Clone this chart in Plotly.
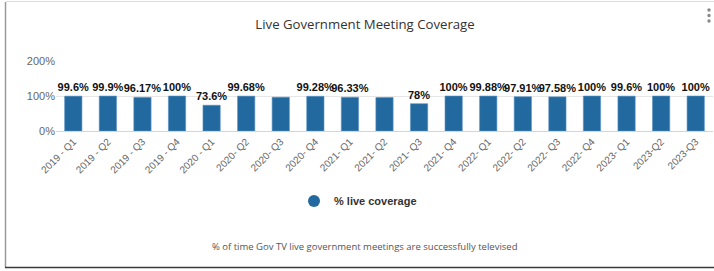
import plotly.graph_objects as go

categories = ["2019 - Q1", "2019 - Q2", "2019 - Q3", "2019 - Q4", "2020 - Q1",
              "2020- Q2", "2020- Q3", "2020- Q4", "2021- Q1", "2021- Q2",
              "2021- Q3", "2021- Q4", "2022- Q1", "2022- Q2", "2022- Q3",
              "2022- Q4", "2023- Q1", "2023-Q2", "2023-Q3"]
coverage = [99.6, 99.9, 96.17, 100, 73.6, 99.68, 96.5, 99.28, 96.33, 95.8,
            78, 100, 99.88, 97.91, 97.58, 100, 99.6, 100, 100]
labels = ["99.6%", "99.9%", "96.17%", "100%", "73.6%", "99.68%", "", "99.28%", "96.33%", "",
          "78%", "100%", "99.88%", "97.91%", "97.58%", "100%", "99.6%", "100%", "100%"]
y_ticks = [0, 100, 200]
y_tick_labels = ["0%", "100%", "200%"]

W, H = 714, 271
L, R, T, B = 56, 1, 61, 140
PW, PH = W - L - R, H - T - B

def px(x):
    return (x - L) / PW

def py(y):
    return (H - B - y) / PH

BLUE = "#22699f"

fig = go.Figure()
fig.add_trace(go.Bar(
    x=categories, y=coverage, text=labels, textposition="outside",
    constraintext="none",
    textfont=dict(family="Liberation Sans, Arial", size=11, color="#111111", weight="bold"),
    marker=dict(color=BLUE, line=dict(color="#5b93c4", width=0.6)),
    width=0.5, cliponaxis=False, showlegend=False, name="% live coverage",
    hoverinfo="x+y",
))
fig.add_trace(go.Scatter(
    x=[None], y=[None], mode="markers", name="% live coverage",
    marker=dict(symbol="circle", size=12, color=BLUE), showlegend=True,
))

shapes = [
    dict(type="line", xref="paper", yref="paper", x0=px(5.5), x1=px(5.5), y0=py(2), y1=py(267.5),
         line=dict(color="#9a9a9a", width=1.5)),
    dict(type="line", xref="paper", yref="paper", x0=px(5), x1=px(714), y0=py(267.5), y1=py(267.5),
         line=dict(color="#3a3a3a", width=1.5)),
    dict(type="line", xref="paper", yref="paper", x0=px(6), x1=px(714), y0=py(1.5), y1=py(1.5),
         line=dict(color="#dddddd", width=1)),
]
for yy in (10, 15.5, 21):
    shapes.append(dict(type="circle", xref="paper", yref="paper",
                       x0=px(707.3), x1=px(710.7), y0=py(yy - 1.7), y1=py(yy + 1.7),
                       fillcolor="#888888", line=dict(width=0)))

fig.update_layout(
    width=W, height=H,
    margin=dict(l=L, r=R, t=T, b=B, autoexpand=False),
    paper_bgcolor="white", plot_bgcolor="white",
    title=dict(text="Live Government Meeting Coverage", x=px(365), xref="paper",
               xanchor="center", y=1 - 24 / H, yanchor="middle",
               font=dict(family="Open Sans, Noto Sans", size=13.2, color="#333333")),
    font=dict(family="Liberation Sans, Arial", color="#666666"),
    xaxis=dict(type="category", tickangle=-45, tickfont=dict(size=10, color="#666666"),
               showgrid=False, showline=True, linecolor="#ccd6eb", linewidth=1,
               ticks="", ticklen=0),
    yaxis=dict(range=[0, 200], tickvals=y_ticks, ticktext=y_tick_labels,
               tickfont=dict(size=11, color="#666666"), showgrid=True,
               gridcolor="#e6e6e6", gridwidth=1, zeroline=False, ticks=""),
    legend=dict(orientation="h", x=px(358), xanchor="center", y=py(201), yanchor="middle",
                font=dict(family="Liberation Sans, Arial", size=11, color="#333333", weight="bold"),
                itemsizing="constant"),
    shapes=shapes,
    annotations=[dict(text="% of time Gov TV live government meetings are successfully televised",
                      xref="paper", yref="paper", x=px(364), y=py(246),
                      xanchor="center", yanchor="middle", showarrow=False,
                      font=dict(family="Open Sans, Noto Sans", size=9.5, color="#555555"))],
)

fig.write_html("out.html", config={"displayModeBar": False},
               post_script="document.body.style.margin='0';document.body.style.overflow='hidden';")
